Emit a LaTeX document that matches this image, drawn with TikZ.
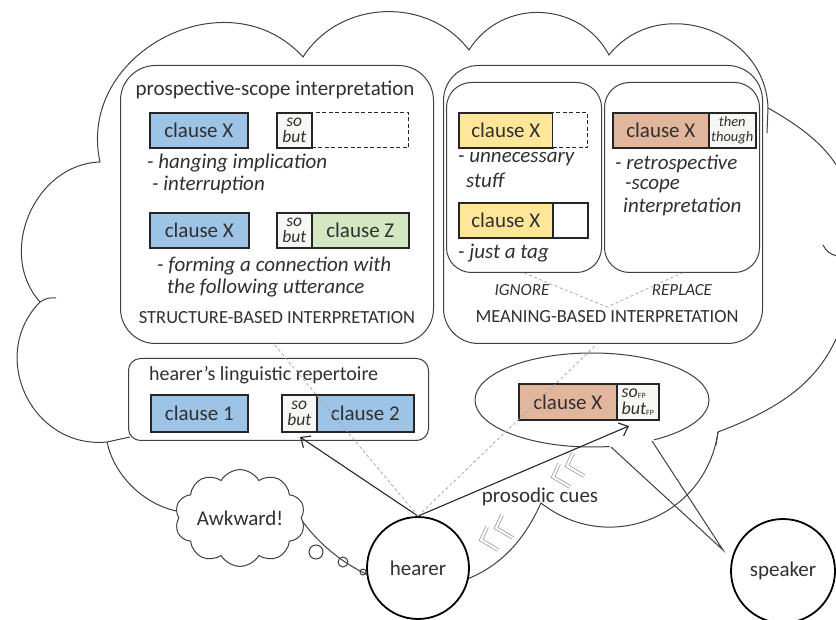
\documentclass[tikz,border=0pt]{standalone}
\usepackage{fontspec}
\setmainfont{Carlito}
\usetikzlibrary{shapes.geometric,shapes.symbols,arrows.meta,calc}
\definecolor{txtc}{HTML}{303030}
\definecolor{linec}{HTML}{404040}
\definecolor{cblue}{HTML}{9DC3E6}
\definecolor{cgreen}{HTML}{D3E8C2}
\definecolor{cyellow}{HTML}{FFE699}
\definecolor{cbrown}{HTML}{E2B69C}
\definecolor{cellc}{HTML}{F7F7F5}
\definecolor{dashc}{HTML}{A8A8A8}
\newcommand\fsz[2][0]{\fontsize{#2}{#2}\selectfont}
\newcommand\cloudlobe[4]{.. controls ($(#1)!#4!#3:(#2)$) and ($(#2)!#4!-#3:(#1)$) .. (#2)}
\begin{document}
\begin{tikzpicture}[x=1pt,y=-1pt,
  base/.style={text=txtc, inner sep=0pt},
  lbl/.style={base, font=\fsz{21}},
  itl/.style={base, font=\fsz{21}\itshape, anchor=west},
  caps/.style={base, font=\fsz{18.5}},
  smallit/.style={base, font=\fsz{17}\itshape},
  frame/.style={draw=linec, line width=1pt, fill=white, anchor=north west, inner sep=0pt},
  clausebox/.style={draw=black!85, line width=1.6pt, minimum height=35pt, anchor=north west, font=\fsz{21}, text=txtc, inner sep=0pt},
  cellbox/.style={clausebox, fill=cellc, minimum width=35pt, align=center, font=\fontsize{17.5}{15.5}\selectfont\itshape},
  dashbox/.style={clausebox, fill=white, line width=1.3pt, dash pattern=on 4pt off 2.5pt},
  cloudline/.style={draw=linec, line width=1pt},
  dashl/.style={draw=dashc, line width=0.8pt, dash pattern=on 3pt off 2.5pt},
  arr/.style={draw=black!85, line width=1.1pt, -{Straight Barb[length=8pt,width=14pt]}},
  chevst/.style={draw=gray!85, line width=0.7pt, double=white, double distance=2.2pt},
  person/.style={circle, draw=black, line width=1.8pt, fill=white, inner sep=0pt, font=\fsz{21}, text=txtc}
]
\useasboundingbox (0,0) rectangle (836,620);
\clip (0,0) rectangle (836,620);

% big thought cloud
\coordinate (C1) at (107,442);
\coordinate (C2) at (40,302);
\coordinate (C3) at (100,162);
\coordinate (C4) at (303,57);
\coordinate (C5) at (469,50);
\coordinate (C6) at (609,55);
\coordinate (C7) at (768,108);
\coordinate (C8) at (858,260);
\coordinate (C9) at (718,432);
\coordinate (C10) at (541,503);
\coordinate (H) at (420,590);
\coordinate (C11) at (296,512);
\coordinate (C12) at (182,512);
\draw[cloudline] (C1) \cloudlobe{C1}{C2}{70}{0.485} \cloudlobe{C2}{C3}{65}{0.43}
  \cloudlobe{C3}{C4}{75}{0.49} \cloudlobe{C4}{C5}{55}{0.41} \cloudlobe{C5}{C6}{60}{0.44}
  \cloudlobe{C6}{C7}{70}{0.47} \cloudlobe{C7}{C8}{30}{0.45} \cloudlobe{C8}{C9}{30}{0.45}
  \cloudlobe{C9}{C10}{60}{0.45} \cloudlobe{C10}{H}{30}{0.4} \cloudlobe{H}{C11}{25}{0.35}
  -- (C12) \cloudlobe{C12}{C1}{35}{0.35};
% inner ticks of the cloud
\draw[cloudline] (C1) -- (130,437);
\draw[cloudline] (C2) to[bend left=20] (56,298);
\draw[cloudline] (C7) -- (767,133);
\draw[cloudline] (C9) -- (716,445);
\draw[cloudline] (837,256) to[bend left=25] (823,245);

% structure-based interpretation
\node[frame, rounded corners=35pt, minimum width=313pt, minimum height=278pt] (struct) at (120,65) {};
\node[lbl] (pst) at (275,90) {prospective-scope interpretation};
\node[clausebox, fill=cblue, minimum width=98pt] (sx1) at (149,112) {clause X};
\node[dashbox, minimum width=97pt] (sd1) at (311,112) {};
\node[cellbox] (sc1) at (276,112) {so\\but};
\node[itl] (t1) at (147,163) {- hanging implication};
\node[itl] (t2) at (152,185) {- interruption};
\node[clausebox, fill=cblue, minimum width=99pt] (sx2) at (149,212) {clause X};
\node[cellbox] (sc2) at (276,212) {so\\but};
\node[clausebox, fill=cgreen, minimum width=97pt] (sz2) at (311,212) {clause Z};
\node[itl] (t3) at (157,266) {- forming a connection with};
\node[itl] (t4) at (167,288) {the following utterance};
\node[caps] (sbi) at (277,318) {STRUCTURE-BASED INTERPRETATION};

% meaning-based interpretation
\node[frame, rounded corners=35pt, minimum width=319pt, minimum height=278pt] (mean) at (443,65) {};
\node[frame, rounded corners=25pt, minimum width=155pt, minimum height=190pt] (ign) at (446,82) {};
\node[frame, rounded corners=25pt, minimum width=155pt, minimum height=190pt] (rep) at (604,82) {};
\node[clausebox, fill=cyellow, minimum width=94pt] (yx1) at (458,112) {clause X};
\node[dashbox, minimum width=35pt] (yd1) at (552,112) {};
\node[itl] (t5) at (458,159) {- unnecessary};
\node[itl] (t6) at (466,180) {stuff};
\node[clausebox, fill=cyellow, minimum width=94pt] (yx2) at (458,202) {clause X};
\node[clausebox, fill=white, minimum width=35pt] (yd2) at (552,202) {};
\node[itl] (t7) at (458,253) {- just a tag};
\node[clausebox, fill=cbrown, minimum width=96pt] (bx1) at (612,112) {clause X};
\node[cellbox, minimum width=47pt, font=\fontsize{14.5}{14.5}\selectfont\itshape] (bc1) at (708,112) {then\\though};
\node[itl] (t8) at (615,164) {- retrospective};
\node[itl] (t9) at (625,186) {-scope};
\node[itl] (t10) at (623,207) {interpretation};
\node[smallit] (ignl) at (522,290) {IGNORE};
\node[smallit] (repl) at (682,290) {REPLACE};
\node[caps] (mbi) at (607,317) {MEANING-BASED INTERPRETATION};
\coordinate (apex) at (607,307);
\draw[dashl] (ign.south) -- (apex) -- (rep.south);

% hearer's repertoire
\node[frame, rounded corners=12pt, minimum width=300pt, minimum height=82pt] (reper) at (128,358) {};
\node[base, font=\fsz{20}, anchor=west] (rt) at (149,375) {hearer’s linguistic repertoire};
\node[clausebox, fill=cblue, minimum width=97pt, minimum height=37pt] (r1) at (150,394) {clause 1};
\node[cellbox, minimum height=37pt] (rc) at (281,394) {so\\but};
\node[clausebox, fill=cblue, minimum width=97pt, minimum height=37pt] (r2) at (316,394) {clause 2};

% speech bubble
\node[ellipse, draw=linec, line width=1pt, fill=white, minimum width=234pt, minimum height=94pt, inner sep=0pt] (bub) at (592,400) {};
\coordinate (tl) at (611,447);
\coordinate (tr) at (652,441);
\coordinate (tip) at (723,550);
\fill[white] (609,450) -- (655,443.5) -- (652,435) -- (611,439) -- cycle;
\draw[cloudline] (tl) -- (tip) -- (tr);
\node[clausebox, fill=cbrown, minimum width=98pt, minimum height=36pt] (ex) at (518,383) {clause X};
\node[cellbox, minimum width=42pt, minimum height=36pt, align=left, font=\fontsize{18}{17}\selectfont] (ec) at (616,383)
  {\textit{so}\raisebox{-1pt}{\fsz{8}FP}\\\textit{but}\raisebox{-1pt}{\fsz{8}FP}};

% Awkward thought
\node[cloud, cloud puffs=10, cloud puff arc=120, aspect=1.55, draw=linec, line width=1pt, fill=white,
  minimum width=130pt, minimum height=84pt, inner sep=0pt, font=\fsz{21}, text=txtc] (awk) at (240,518) {Awkward!};
\node[circle, draw=linec, line width=1pt, minimum size=14pt, inner sep=0pt] (b1) at (316,552) {};
\node[circle, draw=linec, line width=1pt, minimum size=10pt, inner sep=0pt] (b2) at (343,562) {};
\node[circle, draw=linec, line width=1pt, minimum size=6pt, inner sep=0pt] (b3) at (363,572) {};

% persons
\node[person, minimum size=102pt] (hearer) at (418,568) {hearer};
\node[person, minimum size=104pt] (speaker) at (783,571) {speaker};

% prosodic cues
\node[lbl] (pc) at (540,497) {prosodic cues};
\foreach \v in {(481,540),(496,528),(553,477),(567,466)}{
  \draw[chevst] \v ++(6,-13) -- \v -- ++(17,10);
}

% arrows and dashed links
\coordinate (tip1) at (300,437);
\coordinate (tip2) at (629,426);
\coordinate (sb) at (273,343);
\coordinate (mb) at (596,345);
\draw[arr] (hearer.north) -- (tip1);
\draw[arr] (hearer.north) -- (tip2);
\draw[dashl] (hearer.north) -- (sb);
\draw[dashl] (hearer.north) -- (mb);
\end{tikzpicture}
\end{document}
